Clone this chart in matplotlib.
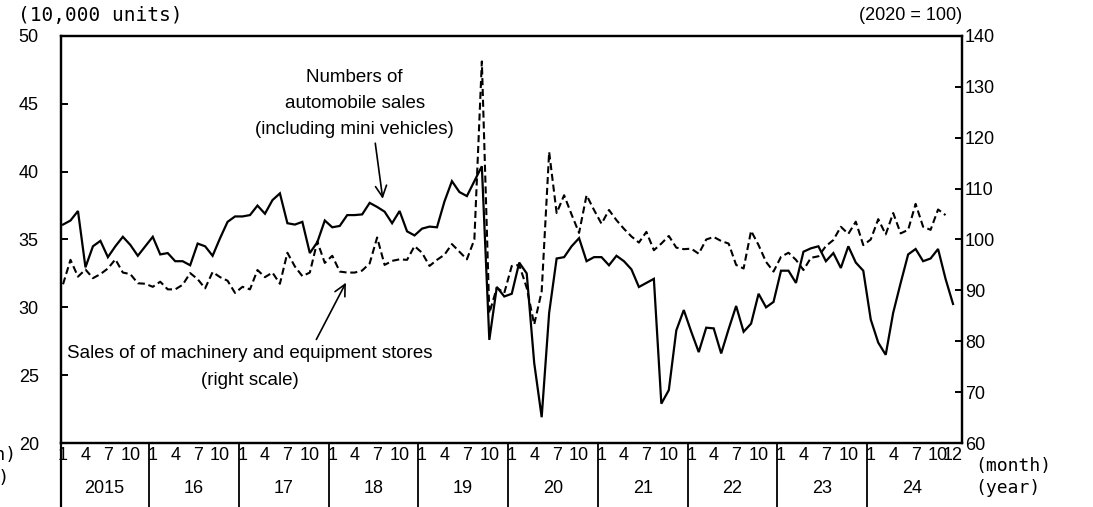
import numpy as np
import matplotlib.pyplot as plt
from matplotlib.lines import Line2D

# monthly, Jan 2015 - Dec 2024
YEAR_LABELS = ["2015", "16", "17", "18", "19", "20", "21", "22", "23", "24"]
MONTH_LABELS = ["1", "4", "7", "10"]

# Numbers of automobile sales incl. mini vehicles (10,000 units, left scale)
AUTO_SALES = [
    36.1, 36.4, 37.1, 32.95, 34.5, 34.9, 33.7, 34.5, 35.2, 34.6, 33.8, 34.5,
    35.2, 33.9, 34.0, 33.4, 33.4, 33.1, 34.7, 34.5, 33.8, 35.1, 36.3, 36.7,
    36.7, 36.8, 37.5, 36.9, 37.9, 38.4, 36.2, 36.1, 36.3, 34.0, 34.8, 36.4,
    35.9, 36.0, 36.8, 36.8, 36.85, 37.7, 37.4, 37.05, 36.2, 37.1, 35.6, 35.3,
    35.8, 35.95, 35.9, 37.8, 39.3, 38.5, 38.2, 39.3, 40.4, 27.6, 31.5, 30.8,
    31.0, 33.3, 32.5, 25.9, 21.9, 29.6, 33.6, 33.7, 34.5, 35.1, 33.4, 33.7,
    33.7, 33.1, 33.8, 33.4, 32.8, 31.5, 31.8, 32.1, 22.9, 23.9, 28.3, 29.8,
    28.2, 26.7, 28.5, 28.45, 26.6, 28.4, 30.1, 28.2, 28.8, 31.0, 30.0, 30.4,
    32.7, 32.7, 31.8, 34.1, 34.35, 34.5, 33.4, 34.0, 32.9, 34.5, 33.3, 32.7,
    29.1, 27.4, 26.5, 29.6, 31.8, 33.9, 34.3, 33.4, 33.6, 34.3, 32.1, 30.25,
]

# Sales of machinery and equipment stores (2020 = 100, right scale)
MACHINERY_SALES = [
    91.2, 96.0, 92.7, 94.1, 92.4, 93.2, 94.3, 96.1, 93.5, 93.2, 91.4, 91.3,
    90.7, 91.7, 90.2, 90.2, 91.1, 93.4, 92.2, 90.4, 93.6, 92.6, 91.9, 89.5,
    90.7, 90.2, 94.0, 92.6, 93.5, 91.3, 97.4, 94.7, 92.8, 93.5, 99.6, 95.4,
    96.8, 93.7, 93.5, 93.5, 93.9, 95.3, 100.4, 95.0, 95.8, 96.1, 96.0, 98.7,
    97.4, 94.8, 96.0, 97.0, 99.1, 97.6, 96.1, 100.0, 135.0, 85.5, 90.5, 89.5,
    94.8, 95.0, 90.5, 83.3, 89.8, 117.2, 105.2, 108.7, 104.9, 101.3, 108.7, 105.8,
    103.1, 105.8, 103.8, 102.1, 100.6, 99.4, 101.5, 97.9, 99.2, 100.7, 98.4, 98.1,
    98.2, 97.2, 100.0, 100.5, 99.7, 99.2, 95.0, 94.3, 101.7, 98.9, 95.6, 93.7,
    96.6, 97.4, 96.0, 94.0, 96.4, 96.7, 98.7, 99.9, 102.5, 101.1, 103.5, 98.9,
    100.0, 104.0, 101.0, 105.2, 101.2, 101.9, 107.0, 102.5, 101.9, 105.9, 104.8, np.nan,
]

plt.rcParams["font.family"] = ["Liberation Sans", "DejaVu Sans"]
FS = 13

W, H = 1093, 507
fig = plt.figure(figsize=(W / 100, H / 100), dpi=100)
ax = fig.add_axes([61 / W, 1 - 443 / H, (962 - 61) / W, (443 - 36) / H])
ax2 = ax.twinx()

x = np.arange(len(AUTO_SALES))
ax.plot(x, AUTO_SALES, color="black", lw=1.6, solid_joinstyle="miter")
ax2.plot(x, MACHINERY_SALES, color="black", lw=1.5, ls=(0, (3.4, 1.8)))

ax.set_xlim(-0.27, 120.2)
ax.set_ylim(20, 50)
ax.set_yticks(np.arange(20, 51, 5))
ax2.set_ylim(60, 140)
ax2.set_yticks(np.arange(60, 141, 10))
ax.set_xticks([])

for a in (ax, ax2):
    for s in a.spines.values():
        s.set_linewidth(1.6)
ax.tick_params(axis="y", direction="in", length=5, width=1.4, labelsize=FS, pad=16)
ax2.tick_params(axis="y", direction="in", length=5, width=1.4, labelsize=FS, pad=2)

# month / year labels under the axis
xt = ax.get_xaxis_transform()
for k, yl in enumerate(YEAR_LABELS):
    for j, ml in enumerate(MONTH_LABELS):
        ax.text(12 * k + 3 * j, -0.03, ml, transform=xt, ha="center", va="center", fontsize=FS)
    ax.text(12 * k + 5.5, -0.111, yl, transform=xt, ha="center", va="center", fontsize=FS)
    if k > 0:
        ax.add_line(Line2D([12 * k - 0.5] * 2, [0, -0.158], transform=xt,
                           color="black", lw=1.3, clip_on=False))
ax.text(len(x) - 1, -0.03, "12", transform=xt, ha="center", va="center", fontsize=FS)
ax.add_line(Line2D([0, 0], [0, -0.158], transform=ax.transAxes,
                   color="black", lw=1.6, clip_on=False))

mono = ["DejaVu Sans Mono"]
fig.text(975 / W, 1 - 466 / H, "(month)", ha="left", va="center", fontsize=FS, family=mono)
fig.text(975 / W, 1 - 488 / H, "(year)", ha="left", va="center", fontsize=FS, family=mono)
fig.text(16 / W, 1 - 455 / H, "(month)", ha="right", va="center", fontsize=FS, family=mono)
fig.text(9 / W, 1 - 478 / H, "(year)", ha="right", va="center", fontsize=FS, family=mono)
fig.text(18 / W, 1 - 15 / H, "(10,000 units)", ha="left", va="center", fontsize=14, family=mono)
fig.text(962 / W, 1 - 15 / H, "(2020 = 100)", ha="right", va="center", fontsize=FS)

# annotations
ax.text(39.0, 45.0, "Numbers of\nautomobile sales\n(including mini vehicles)",
        ha="center", va="center", fontsize=13.5, linespacing=1.7)
ax.annotate("", xy=(42.8, 37.8), xytext=(41.7, 42.3),
            arrowprops=dict(arrowstyle="->", color="black", lw=1.2, mutation_scale=20))
ax.text(25.0, 25.6, "Sales of of machinery and equipment stores\n(right scale)",
        ha="center", va="center", fontsize=13.5, linespacing=1.7)
ax.annotate("", xy=(38.0, 32.0), xytext=(33.7, 27.45),
            arrowprops=dict(arrowstyle="->", color="black", lw=1.2, mutation_scale=20))

fig.savefig("out.png", dpi=100)
